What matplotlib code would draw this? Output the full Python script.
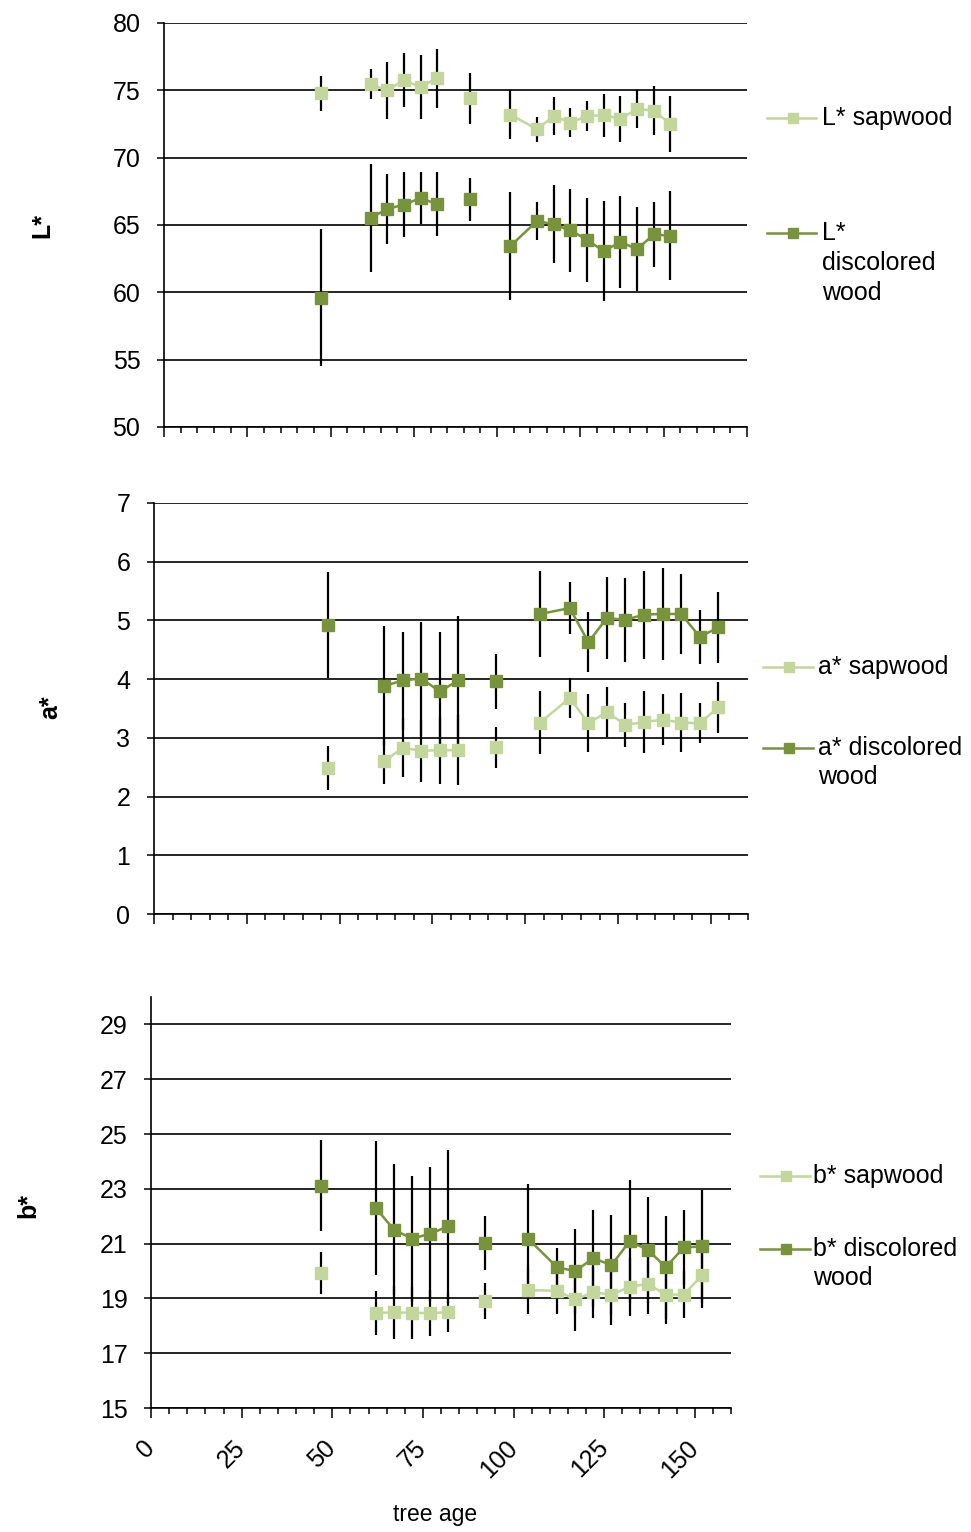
import numpy as np
import matplotlib
matplotlib.use("Agg")
import matplotlib.pyplot as plt
from matplotlib.ticker import MultipleLocator

plt.rcParams['font.family'] = ['Liberation Sans', 'DejaVu Sans']

# tree age of each sample, and which points are joined by a line
ages = [47, 62, 67, 72, 77, 82, 92, 104, 112, 117, 122, 127, 132, 137, 142, 147, 152]
segment = [0, 1, 1, 1, 1, 1, 2, 3, 3, 3, 3, 3, 3, 3, 3, 3, 3]

L_sap = [74.8, 75.45, 75.0, 75.75, 75.25, 75.9, 74.4, 73.2, 72.1, 73.1, 72.6, 73.1, 73.15, 72.9, 73.6, 73.5, 72.5]
L_sap_err = [1.3, 1.1, 2.1, 2.0, 2.4, 2.2, 1.9, 1.8, 0.9, 1.4, 1.1, 1.1, 1.6, 1.7, 1.4, 1.8, 2.1]
L_dis = [59.6, 65.5, 66.2, 66.5, 67.0, 66.55, 66.9, 63.45, 65.3, 65.05, 64.6, 63.9, 63.05, 63.75, 63.2, 64.3, 64.2]
L_dis_err = [5.1, 4.0, 2.6, 2.4, 1.9, 2.4, 1.6, 4.0, 1.4, 2.9, 3.1, 3.1, 3.7, 3.4, 3.1, 2.4, 3.3]

a_sap = [2.49, 2.60, 2.83, 2.78, 2.79, 2.79, 2.84, 3.26, 3.68, 3.25, 3.44, 3.22, 3.27, 3.31, 3.26, 3.25, 3.52]
a_sap_err = [0.37, 0.39, 0.49, 0.53, 0.57, 0.6, 0.35, 0.53, 0.34, 0.49, 0.43, 0.38, 0.53, 0.44, 0.5, 0.34, 0.43]
a_dis = [4.92, 3.88, 3.98, 4.01, 3.79, 3.98, 3.96, 5.11, 5.21, 4.63, 5.04, 5.01, 5.10, 5.11, 5.11, 4.72, 4.88]
a_dis_err = [0.9, 1.02, 0.83, 0.97, 1.02, 1.1, 0.47, 0.74, 0.44, 0.51, 0.7, 0.71, 0.75, 0.78, 0.68, 0.46, 0.6]

b_sap = [19.93, 18.47, 18.49, 18.47, 18.47, 18.49, 18.9, 19.3, 19.28, 18.96, 19.22, 19.14, 19.42, 19.53, 19.14, 19.14, 19.84]
b_sap_err = [0.76, 0.8, 0.96, 0.95, 0.85, 0.7, 0.66, 0.87, 0.85, 1.16, 0.94, 1.1, 1.07, 1.1, 1.06, 0.86, 1.2]
b_dis = [23.12, 22.3, 21.51, 21.18, 21.36, 21.63, 21.02, 21.18, 20.14, 19.99, 20.47, 20.21, 21.08, 20.78, 20.14, 20.86, 20.9]
b_dis_err = [1.66, 2.45, 2.4, 2.3, 2.45, 2.8, 1.0, 2.0, 0.7, 1.56, 1.77, 1.82, 2.25, 1.93, 1.88, 1.38, 2.07]

SAP = "#C3D69B"
DIS = "#77933C"

W, H = 971, 1532
fig = plt.figure(figsize=(W / 100, H / 100), dpi=100)


def px_axes(left, right, top, bottom):
    return fig.add_axes([left / W, 1 - bottom / H, (right - left) / W, (bottom - top) / H])


def draw_series(ax, vals, errs, color):
    x = np.array(ages)
    v = np.array(vals)
    seg = np.array(segment)
    ax.errorbar(x, v, yerr=errs, fmt="none", ecolor="black", elinewidth=1.6, capsize=0, zorder=2)
    for s in np.unique(seg):
        m = seg == s
        ax.plot(x[m], v[m], color=color, lw=1.8, zorder=3)
    ax.plot(x, v, ls="none", marker="s", ms=8, mfc=color, mec=color, zorder=4)


def style(ax, xmax, ylim, ystep, labels_x=False):
    ax.set_xlim(0, xmax)
    ax.set_ylim(*ylim)
    ax.xaxis.set_major_locator(MultipleLocator(25))
    ax.xaxis.set_minor_locator(MultipleLocator(5))
    ax.yaxis.set_major_locator(MultipleLocator(ystep))
    ax.yaxis.grid(True, color="black", lw=1.2)
    ax.set_axisbelow(True)
    for s in ("top", "right"):
        ax.spines[s].set_visible(False)
    for s in ("left", "bottom"):
        ax.spines[s].set_linewidth(1.2)
    ax.tick_params(axis="x", which="major", length=7, width=1.1, direction="out")
    ax.tick_params(axis="x", which="minor", length=4.3, width=1.1, direction="out")
    ax.tick_params(axis="y", length=5, width=1.1, pad=12, labelsize=18)
    if labels_x:
        ax.tick_params(axis="x", labelsize=18, pad=19)
        for lab in ax.get_xticklabels():
            lab.set_rotation(45)
            lab.set_ha("right")
            lab.set_va("center")
            lab.set_rotation_mode("anchor")
    else:
        ax.tick_params(axis="x", labelbottom=False)


# overlay in pixel coords for the legends
ov = fig.add_axes([0, 0, 1, 1])
ov.set_xlim(0, W)
ov.set_ylim(H, 0)
ov.axis("off")


def legend_entry(x0, x1, y, color, lines, tx, dy):
    ov.plot([x0, x1], [y, y], color=color, lw=1.8)
    ov.plot([(x0 + x1) / 2 + 1], [y], ls="none", marker="s", ms=7, mfc=color, mec=color)
    for i, t in enumerate(lines):
        ov.text(tx, y + i * dy, t, fontsize=18, ha="left", va="center")


# L* panel
ax1 = px_axes(164, 747, 23, 427)
draw_series(ax1, L_sap, L_sap_err, SAP)
draw_series(ax1, L_dis, L_dis_err, DIS)
style(ax1, 175, (50, 80), 5)
legend_entry(767, 816, 118, SAP, ["L* sapwood"], 822, 30)
legend_entry(767, 816, 233, DIS, ["L*", "discolored", "wood"], 822, 30)
fig.text(42 / W, 1 - 225 / H, "L*", rotation=90, fontsize=18, fontweight="bold", ha="center", va="center")

# a* panel
ax2 = px_axes(154, 748, 503, 914)
draw_series(ax2, a_sap, a_sap_err, SAP)
draw_series(ax2, a_dis, a_dis_err, DIS)
style(ax2, 160, (0, 7), 1)
legend_entry(763, 813, 667, SAP, ["a* sapwood"], 818, 28)
legend_entry(763, 813, 748, DIS, ["a* discolored", "wood"], 818, 29)
fig.text(50 / W, 1 - 707 / H, "a*", rotation=90, fontsize=18, fontweight="bold", ha="center", va="center")

# b* panel
ax3 = px_axes(151, 731, 997, 1408)
draw_series(ax3, b_sap, b_sap_err, SAP)
draw_series(ax3, b_dis, b_dis_err, DIS)
style(ax3, 160, (15, 30), 2, labels_x=True)
ax3.set_yticks([15, 17, 19, 21, 23, 25, 27, 29])
legend_entry(760, 810, 1176, SAP, ["b* sapwood"], 813, 28)
legend_entry(760, 810, 1249, DIS, ["b* discolored", "wood"], 813, 29)
fig.text(28 / W, 1 - 1205 / H, "b*", rotation=90, fontsize=18, fontweight="bold", ha="center", va="center")
fig.text(435 / W, 1 - 1515 / H, "tree age", fontsize=16.5, ha="center", va="center")

fig.savefig("out.png", dpi=100)
